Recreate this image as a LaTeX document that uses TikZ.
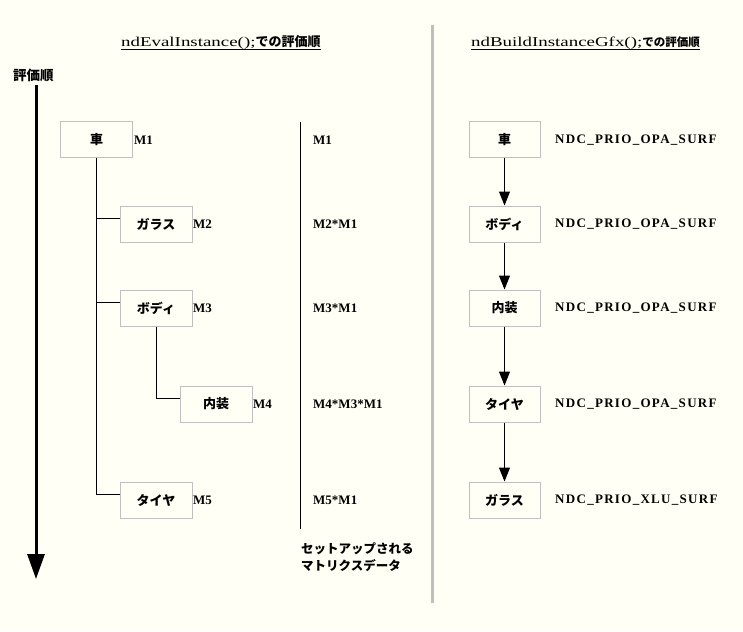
\documentclass[tikz,border=0pt]{standalone}
\usepackage{fontspec}
\setmainfont{Liberation Serif}
\newfontfamily\jp{Noto Sans CJK JP}
\newfontfamily\ttl[FakeStretch=1.4]{Liberation Serif}
\newfontfamily\ndc[LetterSpace=10]{Liberation Serif}
\usetikzlibrary{arrows.meta}
\definecolor{bg}{RGB}{255,255,245}
\definecolor{boxgray}{RGB}{192,192,192}
\definecolor{divgray}{RGB}{190,190,186}
\begin{document}
\begin{tikzpicture}[x=1pt,y=-1pt,
  box/.style={draw=boxgray,line width=1pt,fill=bg,minimum width=72pt,minimum height=36pt,inner sep=0pt,font=\jp\bfseries\fontsize{13}{15}\selectfont},
  mlab/.style={anchor=west,inner sep=0pt,font=\bfseries\fontsize{13}{15}\selectfont},
  ndclab/.style={anchor=west,inner sep=0pt,font=\ndc\bfseries\fontsize{13}{15}\selectfont},
  titlelab/.style={anchor=base west,inner sep=0pt},
  tree/.style={line width=1pt,black},
  flow/.style={line width=1pt,-{Triangle[width=11pt,length=14pt]}},
  order/.style={line width=3pt,-{Triangle[width=17pt,length=25pt]}}
]
\fill[bg] (0,0) rectangle (743,631);
\useasboundingbox (0,0) rectangle (743,631);

% titles
\node[titlelab] (t1) at (121,47) {{\ttl\fontsize{13.5}{15}\selectfont ndEvalInstance();}{\jp\bfseries\fontsize{13}{15}\selectfont での評価順}};
\draw[line width=0.8pt] ([yshift=-2pt]t1.base west) -- ([yshift=-2pt]t1.base east);
\node[titlelab] (t2) at (471,47) {{\ttl\fontsize{13.5}{15}\selectfont ndBuildInstanceGfx();}{\jp\bfseries\fontsize{11.5}{15}\selectfont での評価順}};
\draw[line width=0.8pt] ([yshift=-2pt]t2.base west) -- ([yshift=-2pt]t2.base east);

% divider
\coordinate (dtop) at (432,25);
\coordinate (dbot) at (432,603);
\draw[divgray,line width=3pt] (dtop) -- (dbot);

% evaluation order arrow
\node[anchor=west,inner sep=0pt,font=\jp\bfseries\fontsize{13.5}{15}\selectfont] (ordl) at (13,75) {評価順};
\coordinate (atop) at (36,85);
\coordinate (abot) at (36,579);
\draw[order] (atop) -- (abot);

% left tree
\node[box] (car) at (96.5,140) {車};
\node[box] (glass) at (156,224) {ガラス};
\node[box] (body) at (156,308) {ボディ};
\node[box] (inner) at (216,404) {内装};
\node[box] (tire) at (156,500) {タイヤ};
\draw[tree] (car.south) |- ([yshift=6pt]tire.west);
\draw[tree] ([yshift=6pt]glass.west) -- ([yshift=6pt]glass.west -| car.south);
\draw[tree] ([yshift=6pt]body.west) -- ([yshift=6pt]body.west -| car.south);
\draw[tree] (body.south) |- ([yshift=6pt]inner.west);

\node[mlab] (m1) at (134,140) {M1};
\node[mlab] (m2) at (193,224) {M2};
\node[mlab] (m3) at (193,308) {M3};
\node[mlab] (m4) at (253,404) {M4};
\node[mlab] (m5) at (193,500) {M5};

% matrix column
\coordinate (vtop) at (300,122);
\coordinate (vbot) at (300,529);
\draw[line width=1pt] (vtop) -- (vbot);
\node[mlab] (r1) at (313,140) {M1};
\node[mlab] (r2) at (313,224) {M2*M1};
\node[mlab] (r3) at (313,308) {M3*M1};
\node[mlab] (r4) at (313,404) {M4*M3*M1};
\node[mlab] (r5) at (313,500) {M5*M1};
\node[anchor=north west,inner sep=0pt,align=left,font=\jp\bfseries\fontsize{12.5}{17}\selectfont] (setup) at (301,542) {セットアップされる\\マトリクスデータ};

% right column
\node[box,minimum width=71pt] (b1) at (504.5,140) {車};
\node[box,minimum width=71pt] (b2) at (504.5,224) {ボディ};
\node[box,minimum width=71pt] (b3) at (504.5,308) {内装};
\node[box,minimum width=71pt] (b4) at (504.5,404) {タイヤ};
\node[box,minimum width=71pt] (b5) at (504.5,500) {ガラス};
\draw[flow] (b1.south) -- (b2.north);
\draw[flow] (b2.south) -- (b3.north);
\draw[flow] (b3.south) -- (b4.north);
\draw[flow] (b4.south) -- (b5.north);

\node[ndclab] (n1) at (555,140) {NDC\_PRIO\_OPA\_SURF};
\node[ndclab] (n2) at (555,224) {NDC\_PRIO\_OPA\_SURF};
\node[ndclab] (n3) at (555,308) {NDC\_PRIO\_OPA\_SURF};
\node[ndclab] (n4) at (555,404) {NDC\_PRIO\_OPA\_SURF};
\node[ndclab] (n5) at (555,500) {NDC\_PRIO\_XLU\_SURF};
\end{tikzpicture}
\end{document}
